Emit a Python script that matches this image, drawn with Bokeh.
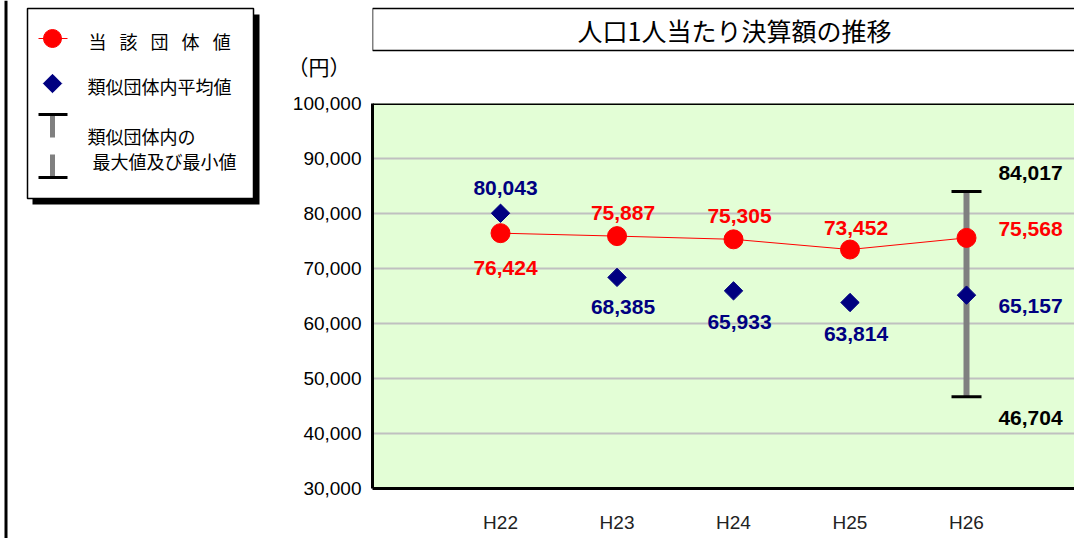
import numpy as np
from bokeh.plotting import figure
from bokeh.models import (ColumnDataSource, Range1d, FixedTicker,
                          NumeralTickFormatter, Span)
from bokeh.layouts import row, column
from bokeh.embed import file_html
from bokeh.resources import INLINE
from bokeh.core.properties import value

# ---------------- data ----------------
years = ["H22", "H23", "H24", "H25", "H26"]
own_values = [76424, 75887, 75305, 73452, 75568]      # 当該団体値
avg_values = [80043, 68385, 65933, 63814, 65157]      # 類似団体内平均値
range_years = ["H26"]
range_max = [84017]                                   # 類似団体内の最大値
range_min = [46704]                                   # 類似団体内の最小値
y_ticks = [30000, 40000, 50000, 60000, 70000, 80000, 90000, 100000]

title_text = "人口1人当たり決算額の推移"
unit_text = "（円）"
legend_own = "当\u2002 該\u2002 団\u2002 体\u2002 値"
legend_avg = "類似団体内平均値"
legend_rng1 = "類似団体内の"
legend_rng2 = "最大値及び最小値"

# ---------------- styles ----------------
RED = "#FF0000"
NAVY = "#000080"
GRAY = "#808080"
BG = "#E3FED6"
NUM_FONT = value("Liberation Sans")
JP_FONT = value("Noto Sans CJK JP")

xpos = {y: i for i, y in enumerate(years)}
xs = [xpos[y] for y in years]

# ---------------- left panel (legend) ----------------
L = figure(width=270, height=538, x_range=Range1d(0, 270), y_range=Range1d(538, 0),
           output_backend="svg", toolbar_location=None, min_border=0,
           x_axis_type=None, y_axis_type=None, outline_line_color=None)
L.grid.visible = False
# page frame line
L.quad(left=4, right=7, top=0, bottom=538, fill_color="black", line_color=None)
# legend shadow + box
L.quad(left=32, right=259, top=14, bottom=204, fill_color="black", line_color=None)
L.quad(left=27, right=253, top=8, bottom=198, fill_color="white", line_color="black", line_width=1.5)
# legend symbols
L.segment(x0=38, y0=38, x1=67, y1=38, line_color=RED, line_width=1)
L.scatter(x=[52], y=[38], size=18, marker="circle", fill_color=RED, line_color=RED)
L.scatter(x=[52], y=[83], size=13, marker="square", angle=np.pi / 4, fill_color=NAVY, line_color=NAVY)
L.segment(x0=52, y0=114, x1=52, y1=137, line_color=GRAY, line_width=5)
L.segment(x0=38, y0=114, x1=67, y1=114, line_color="black", line_width=3)
L.segment(x0=52, y0=154, x1=52, y1=177, line_color=GRAY, line_width=5)
L.segment(x0=38, y0=177, x1=67, y1=177, line_color="black", line_width=3)
# legend texts
for tx, ty, tt in [(88, 40, legend_own), (87, 85, legend_avg), (87, 135, legend_rng1), (92, 160, legend_rng2)]:
    L.text(x=[tx], y=[ty], text=[tt], text_font=JP_FONT, text_font_size="18px",
           text_align="left", text_baseline="middle", text_color="black")

# ---------------- main chart ----------------
M = figure(width=804, height=458, x_range=Range1d(-1.099, 4.927), y_range=Range1d(30000, 100000),
           output_backend="svg", toolbar_location=None,
           min_border_left=102, min_border_right=0, min_border_top=23, min_border_bottom=50,
           background_fill_color=BG, outline_line_color=None)

# ---------------- title panel (frame aligned with main frame) ----------------
T = figure(width=804, height=80, x_range=Range1d(372, 1074), y_range=Range1d(80, 0),
           output_backend="svg", toolbar_location=None, min_border=0, min_border_left=102,
           x_axis_type=None, outline_line_color=None)
T.grid.visible = False
T.quad(left=372, right=1100, top=8, bottom=50, fill_color="white", line_color="black", line_width=1.5)
T.text(x=[734], y=[29], text=[title_text], text_font=JP_FONT, text_font_size="25px",
       text_align="center", text_baseline="middle", text_color="black")
# unit label "（円）" as a single tick label on the title panel's left axis
T.yaxis.ticker = FixedTicker(ticks=[65])
T.yaxis.major_label_overrides = {65: unit_text}
T.yaxis.axis_line_color = None
T.yaxis.major_tick_line_color = None
T.yaxis.minor_tick_line_color = None
T.yaxis.major_label_text_font = "Noto Sans CJK JP"
T.yaxis.major_label_text_font_size = "21px"
T.yaxis.major_label_text_color = "black"
T.yaxis.major_label_standoff = 16

M.xgrid.visible = False
M.ygrid.ticker = FixedTicker(ticks=y_ticks)
M.ygrid.grid_line_color = "#C0C0C0"
M.ygrid.grid_line_width = 2

M.yaxis.ticker = FixedTicker(ticks=y_ticks)
M.yaxis.formatter = NumeralTickFormatter(format="0,0")
M.yaxis.major_tick_line_color = None
M.yaxis.minor_tick_line_color = None
M.yaxis.axis_line_width = 3
M.yaxis.axis_line_color = "black"
M.yaxis.major_label_text_font = "Liberation Sans"
M.yaxis.major_label_text_font_size = "19px"
M.yaxis.major_label_text_color = "black"
M.yaxis.major_label_standoff = 5

M.xaxis.ticker = FixedTicker(ticks=xs)
M.xaxis.major_label_overrides = {i: y for i, y in zip(xs, years)}
M.xaxis.major_tick_line_color = None
M.xaxis.minor_tick_line_color = None
M.xaxis.axis_line_width = 3
M.xaxis.axis_line_color = "black"
M.xaxis.major_label_text_font = "Liberation Sans"
M.xaxis.major_label_text_font_size = "19px"
M.xaxis.major_label_text_color = "#222222"
M.xaxis.major_label_standoff = 17

M.add_layout(Span(location=100000, dimension="width", line_color="black", line_width=3))

# min-max bar
rx = [xpos[y] for y in range_years]
M.segment(x0=rx, y0=range_min, x1=rx, y1=range_max, line_color=GRAY, line_width=6)
M.scatter(x=rx, y=range_max, marker="dash", size=30, line_color="black", line_width=3)
M.scatter(x=rx, y=range_min, marker="dash", size=30, line_color="black", line_width=3)

# own values
M.line(x=xs, y=own_values, line_color=RED, line_width=1)
M.scatter(x=xs, y=own_values, marker="circle", size=19, fill_color=RED, line_color=RED)
# average values
M.scatter(x=xs, y=avg_values, marker="square", angle=np.pi / 4, size=13,
          fill_color=NAVY, line_color=NAVY)

# data labels
def fmt(v):
    return f"{v:,}"

own_dx = [5, 6, 6, 6, 64]
own_dy = [35, -23, -23, -22, -9]
avg_dx = [5, 6, 6, 6, 64]
avg_dy = [-25, 30, 31, 31, 11]

src_own = ColumnDataSource(dict(x=xs, y=own_values, t=[fmt(v) for v in own_values], dx=own_dx, dy=own_dy))
src_avg = ColumnDataSource(dict(x=xs, y=avg_values, t=[fmt(v) for v in avg_values], dx=avg_dx, dy=avg_dy))
src_rng = ColumnDataSource(dict(x=rx + rx, y=range_max + range_min,
                                t=[fmt(v) for v in range_max + range_min],
                                dx=[64, 64], dy=[-18, 21]))

for src, col in [(src_own, RED), (src_avg, NAVY), (src_rng, "black")]:
    M.text(x="x", y="y", text="t", x_offset="dx", y_offset="dy", source=src,
           text_font=NUM_FONT, text_font_style="bold", text_font_size="21px",
           text_align="center", text_baseline="middle", text_color=col)

layout = row(L, column(T, M))
open("out.html", "w").write(file_html(layout, INLINE))
